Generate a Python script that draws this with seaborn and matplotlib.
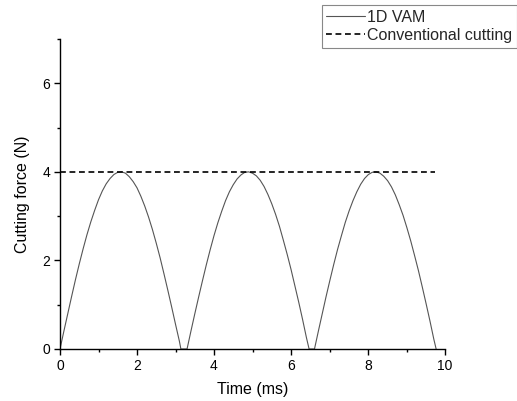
import matplotlib
matplotlib.use("Agg")
import matplotlib.pyplot as plt
from matplotlib.ticker import MultipleLocator
import pandas as pd
import seaborn as sns

# Cutting force under 1D vibration-assisted machining (three cutting cycles)
time_ms = [
    0.00, 0.10, 0.20, 0.30, 0.40, 0.50, 0.60, 0.70, 0.80, 0.90,
    1.00, 1.10, 1.20, 1.30, 1.40, 1.50, 1.60, 1.70, 1.80, 1.90,
    2.00, 2.10, 2.20, 2.30, 2.40, 2.50, 2.60, 2.70, 2.80, 2.90,
    3.00, 3.10, 3.14,
    3.30, 3.40, 3.50, 3.60, 3.70, 3.80, 3.90, 4.00, 4.10, 4.20,
    4.30, 4.40, 4.50, 4.60, 4.70, 4.80, 4.90, 5.00, 5.10, 5.20,
    5.30, 5.40, 5.50, 5.60, 5.70, 5.80, 5.90, 6.00, 6.10, 6.20,
    6.30, 6.40, 6.47,
    6.61, 6.71, 6.81, 6.91, 7.01, 7.11, 7.21, 7.31, 7.41, 7.51,
    7.61, 7.71, 7.81, 7.91, 8.01, 8.11, 8.21, 8.31, 8.41, 8.51,
    8.61, 8.71, 8.81, 8.91, 9.01, 9.11, 9.21, 9.31, 9.41, 9.51,
    9.61, 9.71, 9.77,
]
force_vam = [
    0.00, 0.40, 0.79, 1.18, 1.56, 1.92, 2.26, 2.58, 2.87, 3.13,
    3.37, 3.57, 3.73, 3.85, 3.94, 3.99, 4.00, 3.97, 3.89, 3.78,
    3.64, 3.45, 3.23, 2.98, 2.70, 2.39, 2.06, 1.70, 1.33, 0.95,
    0.56, 0.18, 0.00,
    0.00, 0.40, 0.79, 1.17, 1.54, 1.90, 2.24, 2.56, 2.85, 3.11,
    3.35, 3.55, 3.71, 3.84, 3.93, 3.99, 4.00, 3.97, 3.91, 3.81,
    3.67, 3.49, 3.28, 3.04, 2.77, 2.46, 2.14, 1.80, 1.43, 1.06,
    0.67, 0.26, 0.00,
    0.00, 0.40, 0.79, 1.18, 1.55, 1.91, 2.25, 2.56, 2.86, 3.12,
    3.35, 3.55, 3.72, 3.85, 3.94, 3.99, 4.00, 3.97, 3.90, 3.80,
    3.66, 3.48, 3.26, 3.02, 2.74, 2.44, 2.11, 1.77, 1.40, 1.02,
    0.63, 0.22, 0.00,
]

# Conventional cutting: constant force over the same interval
conv_time_ms = [0.0, 9.75]
conv_force = [4.0, 4.0]

vam = pd.DataFrame({"Time (ms)": time_ms, "Cutting force (N)": force_vam})
conv = pd.DataFrame({"Time (ms)": conv_time_ms, "Cutting force (N)": conv_force})

sns.set_theme(style="ticks")
plt.rcParams["font.family"] = ["Liberation Sans", "DejaVu Sans"]

fig = plt.figure(figsize=(5.17, 4.01), dpi=100)
ax = fig.add_axes([60 / 517, 1 - 349 / 401, 385 / 517, 310 / 401])

sns.lineplot(data=vam, x="Time (ms)", y="Cutting force (N)", ax=ax,
             color="#555555", linewidth=0.8, label="1D VAM", sort=False)
sns.lineplot(data=conv, x="Time (ms)", y="Cutting force (N)", ax=ax,
             color="black", linewidth=1.2, label="Conventional cutting")
ax.lines[1].set_dashes((3.5, 2.2))

ax.set_xlim(0, 10)
ax.set_ylim(0, 7)
ax.xaxis.set_major_locator(MultipleLocator(2))
ax.xaxis.set_minor_locator(MultipleLocator(1))
ax.yaxis.set_major_locator(MultipleLocator(2))
ax.yaxis.set_minor_locator(MultipleLocator(1))
ax.tick_params(which="major", direction="out", length=4, width=1,
               labelsize=10, colors="black", pad=3)
ax.tick_params(which="minor", direction="out", length=2.5, width=1, colors="black")
for side in ("top", "right"):
    ax.spines[side].set_visible(False)
for side in ("left", "bottom"):
    ax.spines[side].set_color("black")
    ax.spines[side].set_linewidth(1)

ax.set_xlabel("Time (ms)", fontsize=11.5, color="black", labelpad=7)
ax.set_ylabel("Cutting force (N)", fontsize=11.5, color="black", labelpad=9)

handles, labels = ax.get_legend_handles_labels()
ax.get_legend().remove()
leg = fig.legend(handles, labels, loc="upper right",
                 bbox_to_anchor=(1.0, 1 - 5 / 401), borderaxespad=0,
                 fontsize=11.5, frameon=True, fancybox=False,
                 edgecolor="#888888", framealpha=1, handlelength=2.4,
                 handletextpad=0.15, borderpad=0.3, labelspacing=0.2)
leg.get_frame().set_linewidth(0.8)

fig.savefig("out.png", dpi=100)
